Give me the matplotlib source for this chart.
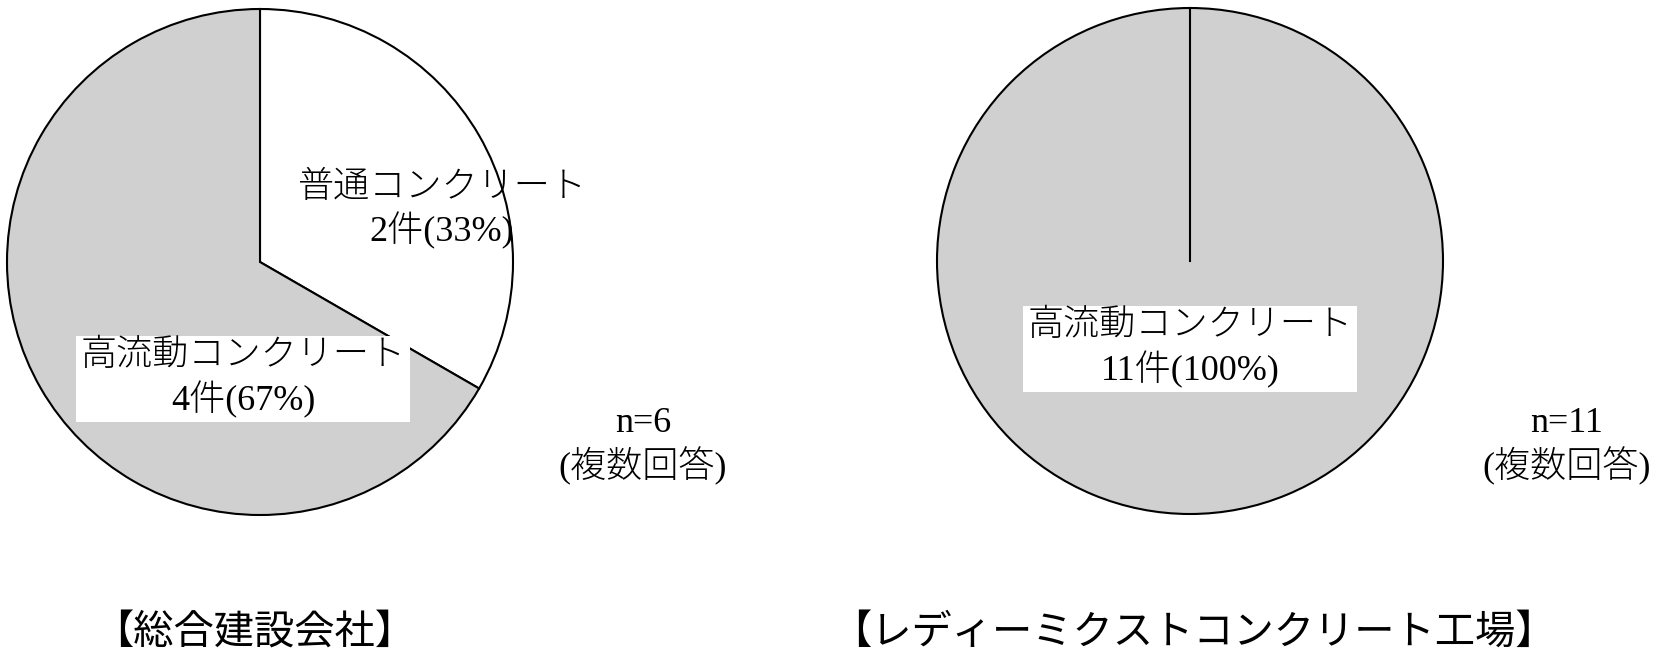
import matplotlib
matplotlib.use('Agg')
import matplotlib.pyplot as plt

# data
LEFT_LABELS = ['普通コンクリート', '高流動コンクリート']
LEFT_COUNTS = [2, 4]
RIGHT_LABELS = ['高流動コンクリート']
RIGHT_COUNTS = [11]
LEFT_TITLE = '【総合建設会社】'
RIGHT_TITLE = '【レディーミクストコンクリート工場】'
LEFT_N = 6
RIGHT_N = 11

W, H = 1658, 655
GRAY = '#d0d0d0'
SERIF = ['Liberation Serif', 'Noto Sans CJK JP']
GOTHIC = ['Noto Sans CJK JP', 'DejaVu Sans']


def py(y):
    # pixel y (from top) to data y
    return H - y


def pct_label(name, count, total):
    return f'{name}\n{count}件({round(100 * count / total)}%)'


def main():
    fig = plt.figure(figsize=(W / 100, H / 100), dpi=100)
    ax = fig.add_axes([0, 0, 1, 1])

    r = 253
    wedge_kw = dict(edgecolor='black', linewidth=1.5)

    # left pie
    lc = (260, py(262))
    ax.pie(LEFT_COUNTS, colors=['white', GRAY], startangle=90, counterclock=False,
           center=lc, radius=r, wedgeprops=wedge_kw, frame=True)
    # right pie
    rc = (1190, py(261))
    ax.pie(RIGHT_COUNTS, colors=[GRAY], startangle=90, counterclock=False,
           center=rc, radius=r, wedgeprops=wedge_kw, frame=True)
    # single wedge has no radial edge, draw it
    ax.plot([rc[0], rc[0]], [rc[1], rc[1] + r], color='black', linewidth=1.5)

    ax.set_xlim(0, W)
    ax.set_ylim(0, H)
    ax.set_aspect('equal')
    ax.axis('off')

    lt = sum(LEFT_COUNTS)
    rt = sum(RIGHT_COUNTS)
    txt_kw = dict(ha='center', va='center', multialignment='center',
                  fontsize=26, family=SERIF, fontweight='light', linespacing=1.24)
    box = dict(boxstyle='square,pad=0.12', facecolor='white', edgecolor='none')

    ax.text(442, py(211), pct_label(LEFT_LABELS[0], LEFT_COUNTS[0], lt), **txt_kw)
    ax.text(243, py(379), pct_label(LEFT_LABELS[1], LEFT_COUNTS[1], lt), bbox=box, **txt_kw)
    ax.text(1190, py(349), pct_label(RIGHT_LABELS[0], RIGHT_COUNTS[0], rt), bbox=box, **txt_kw)

    ax.text(643, py(446), f'n={LEFT_N}\n(複数回答)', **txt_kw)
    ax.text(1567, py(446), f'n={RIGHT_N}\n(複数回答)', **txt_kw)

    title_kw = dict(ha='center', va='center', fontsize=29, family=GOTHIC, fontweight='normal')
    ax.text(254, py(632), LEFT_TITLE, **title_kw)
    ax.text(1193, py(632), RIGHT_TITLE, **title_kw)

    fig.savefig('out.png', dpi=100, facecolor='white')


if __name__ == "__main__":
    main()
